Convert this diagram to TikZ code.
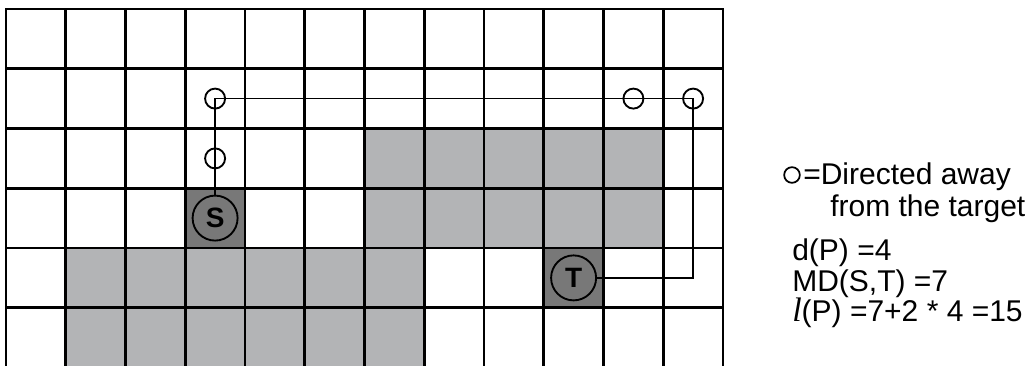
\documentclass[tikz,border=0pt]{standalone}
\usepackage{fontspec}
\setmainfont{Liberation Sans}
\newfontfamily\timesfont{Liberation Serif}
\definecolor{lightcell}{RGB}{179,180,182}
\definecolor{darkcell}{RGB}{120,120,120}
\begin{document}
\begin{tikzpicture}[x=0.75pt,y=-0.75pt,
 gridline/.style={line width=1.9pt,line cap=rect},
 pathline/.style={line width=1.1pt},
 wp/.style={circle,draw,line width=1.4pt,minimum size=15pt,inner sep=0pt},
 endpt/.style={circle,draw,line width=1.4pt,minimum size=33.75pt,inner sep=0pt,font=\fontsize{21pt}{21pt}\selectfont\bfseries},
 lbl/.style={anchor=base west,inner sep=0pt,font=\fontsize{22.5pt}{27pt}\selectfont},
 legmarkstyle/.style={circle,draw,line width=1.3pt,minimum size=11.75pt,inner sep=0pt}]
\useasboundingbox (0,0) rectangle (1029,366);
\def\cs{59.75}
\begin{scope}
\clip (0,0) rectangle (1029,366);
\foreach \c in {6,...,10} \foreach \r in {2,3}
  \fill[lightcell] ({6+\c*\cs},{9+\r*\cs}) rectangle ({6+(\c+1)*\cs},{9+(\r+1)*\cs});
\foreach \c in {1,...,6} \foreach \r in {4,5}
  \fill[lightcell] ({6+\c*\cs},{9+\r*\cs}) rectangle ({6+(\c+1)*\cs},{9+(\r+1)*\cs});
\fill[darkcell] ({6+3*\cs},{9+3*\cs}) rectangle ({6+4*\cs},{9+4*\cs});
\fill[darkcell] ({6+9*\cs},{9+4*\cs}) rectangle ({6+10*\cs},{9+5*\cs});
\foreach \i in {0,...,12} \draw[gridline] ({6+\i*\cs},9) -- ({6+\i*\cs},372);
\foreach \j in {0,...,5} \draw[gridline] (6,{9+\j*\cs}) -- (723,{9+\j*\cs});
\end{scope}
\node[endpt] (S) at (215.1,218.1) {S};
\node[endpt] (T) at (573.6,277.9) {T};
\node[wp] (c1) at (215.1,98.6) {};
\node[wp] (c2) at (215.1,158.4) {};
\node[wp] (c3) at (633.4,98.6) {};
\node[wp] (c4) at (693.1,98.6) {};
\coordinate (corner) at (693.1,277.9);
\draw[pathline] (S) -- (c1.center) -- (c4.center) -- (corner) -- (T);
\node[legmarkstyle] (legmark) at (792,175) {};
\node[lbl] (l1) at (803,185) {=Directed away};
\node[lbl] (l2) at (830,216.5) {from the target};
\node[lbl] (l3) at (792,261) {d(P) =4};
\node[lbl] (l4) at (792,291.5) {MD(S,T) =7};
\node[lbl] (l5) at (792,322) {{\timesfont\itshape\fontsize{25.5pt}{25.5pt}\selectfont l}(P) =7+2 * 4 =15};
\end{tikzpicture}
\end{document}
